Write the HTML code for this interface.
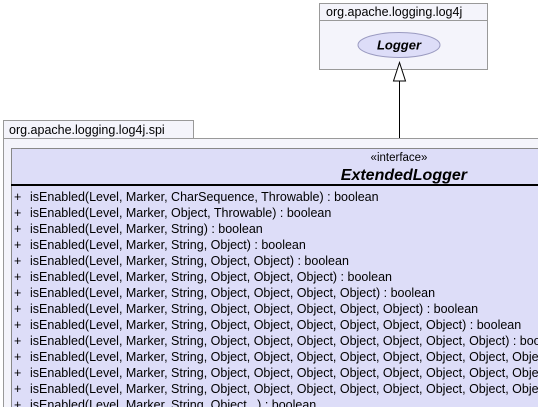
<!DOCTYPE html>
<html><head><meta charset="utf-8"><style>
html,body{margin:0;padding:0;background:#fff;width:538px;height:407px;overflow:hidden}
svg{display:block}
text{font-family:"Liberation Sans",sans-serif;fill:#000}
</style></head><body>
<svg width="538" height="407" viewBox="0 0 538 407">
<rect x="319.5" y="3.5" width="168" height="66" fill="#f4f4fb" stroke="#999"/>
<line x1="319.5" y1="20.5" x2="487.5" y2="20.5" stroke="#999"/>
<text x="326" y="16" font-size="12.5">org.apache.logging.log4j</text>
<ellipse cx="399" cy="45" rx="41" ry="12.5" fill="#ddddf8" stroke="#9a9ac0"/>
<text x="399" y="49.5" font-size="13" font-weight="bold" font-style="italic" text-anchor="middle">Logger</text>
<line x1="399.5" y1="81" x2="399.5" y2="148" stroke="#000"/>
<polygon points="399.5,62.5 393.5,81 405.5,81" fill="#fff" stroke="#000"/>
<rect x="3.5" y="120.5" width="190" height="18" fill="#f4f4fb" stroke="#999"/>
<text x="9" y="134" font-size="12.5">org.apache.logging.log4j.spi</text>
<rect x="3.5" y="138.5" width="540" height="280" fill="#f4f4fb" stroke="#999"/>
<rect x="11.5" y="148.5" width="540" height="270" fill="#ddddf8" stroke="#888"/>
<line x1="11" y1="185" x2="538" y2="185" stroke="#000" stroke-width="2"/>
<text x="399" y="161" font-size="11.5" text-anchor="middle">«interface»</text>
<text x="467" y="180" font-size="16" font-weight="bold" font-style="italic" text-anchor="end">ExtendedLogger</text>
<g font-size="12.5">
<text x="14" y="201">+</text><text x="14" y="217">+</text><text x="14" y="233">+</text><text x="14" y="249">+</text>
<text x="14" y="265">+</text><text x="14" y="281">+</text><text x="14" y="297">+</text><text x="14" y="313">+</text>
<text x="14" y="329">+</text><text x="14" y="345">+</text><text x="14" y="361">+</text><text x="14" y="377">+</text>
<text x="14" y="393">+</text><text x="14" y="409">+</text>
</g>
<g font-size="12.5">
<text x="30" y="201">isEnabled(Level, Marker, CharSequence, Throwable) : boolean</text>
<text x="30" y="217">isEnabled(Level, Marker, Object, Throwable) : boolean</text>
<text x="30" y="233">isEnabled(Level, Marker, String) : boolean</text>
<text x="30" y="249">isEnabled(Level, Marker, String, Object) : boolean</text>
<text x="30" y="265">isEnabled(Level, Marker, String, Object, Object) : boolean</text>
<text x="30" y="281">isEnabled(Level, Marker, String, Object, Object, Object) : boolean</text>
<text x="30" y="297">isEnabled(Level, Marker, String, Object, Object, Object, Object) : boolean</text>
<text x="30" y="313">isEnabled(Level, Marker, String, Object, Object, Object, Object, Object) : boolean</text>
<text x="30" y="329">isEnabled(Level, Marker, String, Object, Object, Object, Object, Object, Object) : boolean</text>
<text x="30" y="345">isEnabled(Level, Marker, String, Object, Object, Object, Object, Object, Object, Object) : boolean</text>
<text x="30" y="361">isEnabled(Level, Marker, String, Object, Object, Object, Object, Object, Object, Object, Object) : boolean</text>
<text x="30" y="377">isEnabled(Level, Marker, String, Object, Object, Object, Object, Object, Object, Object, Object, Object) : boolean</text>
<text x="30" y="393">isEnabled(Level, Marker, String, Object, Object, Object, Object, Object, Object, Object, Object, Object, Object) : boolean</text>
<text x="30" y="409">isEnabled(Level, Marker, String, Object...) : boolean</text>
</g>
</svg>
</body></html>
